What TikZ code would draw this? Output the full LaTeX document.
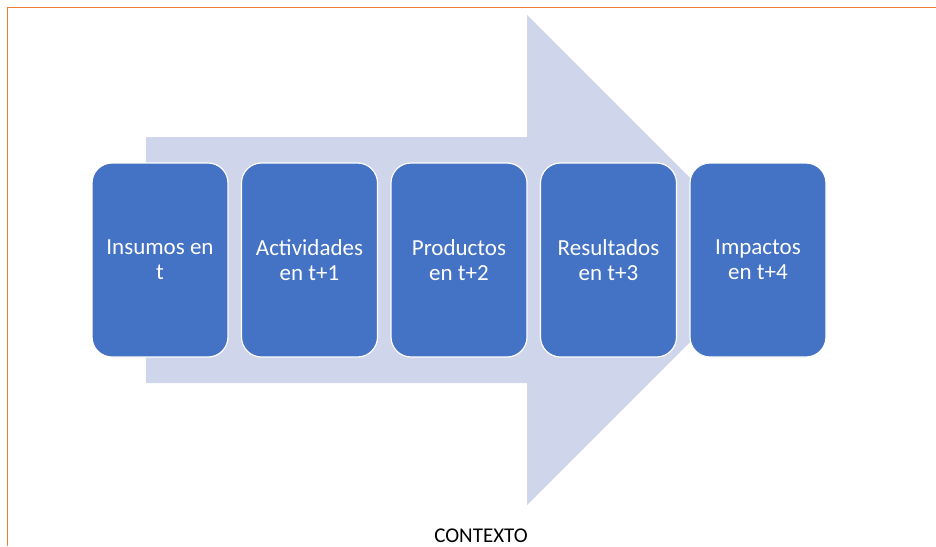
\documentclass[tikz,border=0pt]{standalone}
\usepackage{fontspec}
\setmainfont{Carlito}
\definecolor{boxblue}{HTML}{4472C4}
\definecolor{arrowfill}{HTML}{CFD5EA}
\definecolor{frameorange}{HTML}{ED7D31}
\begin{document}
\begin{tikzpicture}[x=1pt,y=-1pt,
  stagebox/.style={draw=white,line width=1.2pt,fill=boxblue,rounded corners=20pt,
    minimum width=136pt,minimum height=194pt,text=white,align=center,
    font=\fontsize{23}{25}\selectfont,inner sep=0pt},
  bigarrow/.style={fill=arrowfill,draw=none},
  frame/.style={draw=frameorange,line width=1.6pt}]
\useasboundingbox (0,0) rectangle (936,546);
\fill[white] (0,0) rectangle (936,546);
\draw[frame] (7.5,546) -- (7.5,7.5) -- (936,7.5);
\fill[bigarrow] (146,137) -- (527,137) -- (527,15) -- (772,260) -- (527,505) -- (527,383) -- (146,383) -- cycle;
\node[stagebox] (b1) at (160,260) {Insumos en\\t};
\node[stagebox] (b2) at (309.5,260) {Actividades\\en t+1};
\node[stagebox] (b3) at (459,260) {Productos\\en t+2};
\node[stagebox] (b4) at (608.5,260) {Resultados\\en t+3};
\node[stagebox] (b5) at (758,260) {Impactos\\en t+4};
\node[font=\fontsize{21}{24}\selectfont,anchor=base] (ctx) at (481,542) {CONTEXTO};
\end{tikzpicture}
\end{document}
